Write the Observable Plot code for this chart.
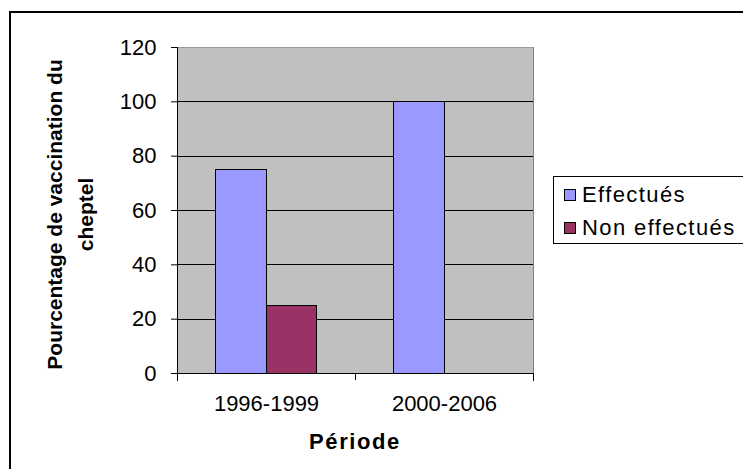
<!DOCTYPE html>
<html>
<head>
<meta charset="utf-8">
<script src="https://cdn.jsdelivr.net/npm/d3@7"></script>
<script src="https://cdn.jsdelivr.net/npm/@observablehq/plot@0.6"></script>
<style>
  html, body { margin: 0; padding: 0; background: #fff; }
  #wrap { position: relative; width: 743px; height: 469px; overflow: hidden; font-family: "Liberation Sans", Arial, sans-serif; }
  #border { position: absolute; left: 9px; top: 11px; width: 800px; height: 600px; border: 2px solid #000; box-sizing: border-box; }
  #chart { position: absolute; left: 0; top: 0; }
  #chart svg line, #chart svg rect { shape-rendering: crispEdges; }
  #legend { position: absolute; left: 553px; top: 176px; width: 200px; height: 68px; border: 1.5px solid #000; box-sizing: border-box; background: #fff; padding-top: 1px; }
  .item { height: 33px; display: flex; align-items: center; font-size: 22px; letter-spacing: 1.4px; color: #000; white-space: nowrap; }
  .sw { width: 10px; height: 10px; border: 1px solid #000; margin-left: 10px; margin-right: 6px; flex: none; }
  #xtitle { position: absolute; left: 255px; width: 200px; top: 429px; text-align: center; font-weight: bold; font-size: 22px; letter-spacing: 1.6px; }
</style>
</head>
<body>
<div id="wrap">
  <div id="border"></div>
  <div id="chart"></div>
  <div id="legend"></div>
  <div id="xtitle"></div>
</div>
<script>
const periods = ["1996-1999", "2000-2006"];
const series = ["Effectués", "Non effectués"];
const effectues = [75, 100];
const nonEffectues = [25, 0];
const yTicks = [0, 20, 40, 60, 80, 100, 120];
const colors = ["#9999ff", "#993366"];
const yLabel = "Pourcentage de vaccination du\ncheptel";
const xLabel = "Période";

const data = periods.flatMap((p, i) => [
  {period: p, series: series[0], value: effectues[i]},
  {period: p, series: series[1], value: nonEffectues[i]}
]);

// layout (pixels)
const W = 743, H = 469, ML = 177, MR = 210, MT = 47, MB = 96;
const band = (W - ML - MR) / periods.length;   // width of one period band
const barW = 50.5;                               // width of one bar
const outer = (band - barW * series.length) / 2; // gap between band edge and bars

const barMarks = series.map((s, i) => Plot.barY(data.filter(d => d.series === s), {
  x: "period", y: "value", fill: "series", stroke: "#000", strokeWidth: 1,
  insetLeft: outer + i * barW,
  insetRight: outer + (series.length - 1 - i) * barW
}));

const plot = Plot.plot({
  width: W,
  height: H,
  marginLeft: ML,
  marginRight: MR,
  marginTop: MT,
  marginBottom: MB,
  style: {fontFamily: "'Liberation Sans', Arial, sans-serif", background: "transparent", color: "#000"},
  x: {domain: periods, padding: 0, label: null},
  y: {domain: [0, 120], label: null},
  color: {domain: series, range: colors},
  marks: [
    Plot.frame({fill: "#c0c0c0"}),
    Plot.gridY(yTicks.filter(t => t > 0 && t < 120), {stroke: "#000", strokeOpacity: 1}),
    Plot.frame({anchor: "top", stroke: "#9a9a9a"}),
    Plot.frame({anchor: "right", stroke: "#808080"}),
    ...barMarks,
    Plot.ruleY([0], {stroke: "#000"}),
    Plot.frame({anchor: "left", stroke: "#000", insetBottom: -7}),
    Plot.frame({anchor: "right", stroke: "#000", insetTop: H - MT - MB, insetBottom: -7}),
    Plot.axisX({ticks: periods, tickSize: 7, text: null, label: null, dx: -band / 2, stroke: "#000"}),
    Plot.axisX({tickSize: 0, tickPadding: 22, fontSize: 22, label: null}),
    Plot.axisY({ticks: yTicks, tickSize: 6, tickPadding: 15, fontSize: 22, label: null, stroke: "#000"}),
    Plot.text([yLabel], {text: d => d, frameAnchor: "left", textAnchor: "middle", rotate: -90, dx: -110, dy: 4, lineHeight: 1.5, fontSize: 21, fontWeight: "bold"})
  ]
});
document.getElementById("chart").appendChild(plot);

const legend = document.getElementById("legend");
series.forEach((s, i) => {
  const row = document.createElement("div");
  row.className = "item";
  const sw = document.createElement("span");
  sw.className = "sw";
  sw.style.background = colors[i];
  const t = document.createElement("span");
  t.textContent = s;
  row.appendChild(sw);
  row.appendChild(t);
  legend.appendChild(row);
});
document.getElementById("xtitle").textContent = xLabel;
</script>
</body>
</html>
